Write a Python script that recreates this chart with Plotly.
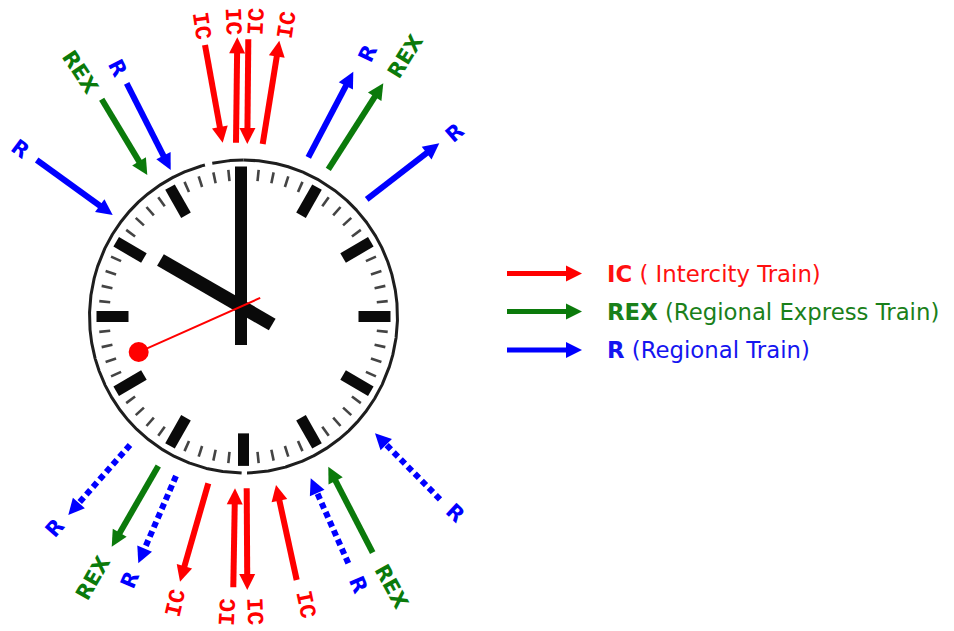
import math
import plotly.graph_objects as go

# ---------------- data ----------------
hour_value = 10
minute_value = 0
second_value = 41

arrow_service = ["R", "REX", "R", "IC", "IC", "IC", "IC", "R", "REX", "R",
                 "R", "REX", "R", "IC", "IC", "IC", "IC", "R", "REX", "R"]
arrow_dotted = [False, False, False, False, False, False, False, False, False, False,
                True, False, True, False, False, False, False, True, False, True]
arrow_tail_x = [36.7, 101.7, 126.7, 205.0, 236.0, 248.3, 262.7, 308.3, 328.3, 366.7,
                130.0, 158.3, 176.0, 208.3, 233.3, 246.7, 296.7, 348.3, 372.7, 440.0]
arrow_tail_y = [160.0, 99.3, 83.3, 45.0, 142.7, 39.3, 144.0, 157.3, 169.3, 199.3,
                445.0, 466.0, 476.0, 483.3, 587.3, 488.3, 580.0, 563.3, 552.7, 499.3]
arrow_tip_x = [112.7, 147.3, 170.7, 222.7, 237.3, 247.3, 279.3, 353.3, 383.3, 439.3,
               68.3, 111.7, 138.3, 180.0, 235.0, 247.3, 276.0, 310.7, 328.3, 375.0]
arrow_tip_y = [215.0, 175.0, 170.0, 142.7, 37.3, 144.0, 40.7, 71.7, 83.3, 143.3,
               515.0, 546.7, 563.3, 581.7, 488.3, 590.0, 485.0, 478.3, 466.7, 433.3]
label_x = [20.0, 80.0, 117.3, 200.7, 232.3, 256.7, 287.3, 368.3, 405.0, 455.0,
           55.0, 93.3, 130.0, 176.7, 228.3, 254.0, 305.0, 358.3, 391.7, 455.0]
label_y = [149.3, 71.7, 68.3, 26.0, 22.0, 21.5, 24.5, 53.3, 56.7, 133.3,
           528.3, 578.3, 580.0, 603.3, 611.7, 611.7, 605.0, 585.0, 586.7, 513.3]

legend_codes = ["IC", "REX", "R"]
legend_names = ["( Intercity Train)", "(Regional Express Train)", "(Regional Train)"]

# ---------------- styles ----------------
PAGE_W, PAGE_H, PAGE_OFF = 954, 631, 8   # browser body margin offsets the plot
colors = {"IC": "#ff0000", "REX": "#0b7a0b", "R": "#0000ff"}
text_colors = {"IC": "#ff1010", "REX": "#1a801a", "R": "#1515f0"}
CX, CY = 243.5, 316.5          # dial centre
RX, RY = 154.0, 156.5          # dial radii
HUBX, HUBY = 241.0, 306.5      # hands pivot
HEAD_L, HEAD_HW, LINE_W = 16.0, 8.0, 6.0

fig = go.Figure()


def dial_point(minute_pos, r):
    t = math.radians(minute_pos * 6.0)
    return CX + r * math.sin(t), CY - r * (RY / RX) * math.cos(t)


# dial face (white, below everything)
fig.add_shape(type="circle", x0=CX - RX, x1=CX + RX, y0=CY - RY, y1=CY + RY,
              xref="x", yref="y", fillcolor="white", line=dict(width=0), layer="below")

# outline with the two small gaps
gaps = [(345.6, 348.2), (178.8, 180.6)]
ox, oy = [], []
for k in range(0, 3601):
    deg = k / 10.0
    if any(a <= deg <= b for a, b in gaps):
        if ox and ox[-1] is not None:
            ox.append(None); oy.append(None)
        continue
    t = math.radians(deg)
    ox.append(CX + RX * math.sin(t)); oy.append(CY - RY * math.cos(t))
fig.add_trace(go.Scatter(x=ox, y=oy, mode="lines", line=dict(color="#1e1e1e", width=3),
                         hoverinfo="skip", showlegend=False))

# minute ticks
mx, my = [], []
for m in range(60):
    if m % 5 == 0:
        continue
    x0, y0 = dial_point(m, 134)
    x1, y1 = dial_point(m, 145)
    mx += [x0, x1, None]; my += [y0, y1, None]
fig.add_trace(go.Scatter(x=mx, y=my, mode="lines", line=dict(color="#444444", width=2.6),
                         hoverinfo="skip", showlegend=False))

# hour ticks (the 12 o'clock one sits under the minute hand)
hx, hy = [], []
for h in range(1, 12):
    x0, y0 = dial_point(h * 5, 115)
    x1, y1 = dial_point(h * 5, 147)
    hx += [x0, x1, None]; hy += [y0, y1, None]
fig.add_trace(go.Scatter(x=hx, y=hy, mode="lines", line=dict(color="#0a0a0a", width=11),
                         hoverinfo="skip", showlegend=False))


def hand(angle_deg, front, back, width, color):
    t = math.radians(angle_deg)
    ux, uy = math.sin(t), -math.cos(t)
    fig.add_trace(go.Scatter(x=[HUBX - back * ux, HUBX + front * ux],
                             y=[HUBY - back * uy, HUBY + front * uy],
                             mode="lines", line=dict(color=color, width=width),
                             hoverinfo="skip", showlegend=False))
    return HUBX + front * ux, HUBY + front * uy


hour_angle = (hour_value % 12 + minute_value / 60.0) * 30.0
minute_angle = minute_value * 6.0
second_angle = second_value * 6.0
hand(hour_angle, 93, 36, 13.5, "#0a0a0a")
hand(minute_angle, 140, 38.5, 12, "#0a0a0a")
sx, sy = hand(second_angle, 112, 21, 2, "#ff0000")
fig.add_shape(type="circle", x0=sx - 10, x1=sx + 10, y0=sy - 10, y1=sy + 10,
              xref="x", yref="y", fillcolor="#ff0000", line=dict(width=0))


def arrow(x0, y0, x1, y1, color, dotted=False, width=LINE_W):
    L = math.hypot(x1 - x0, y1 - y0)
    ux, uy = (x1 - x0) / L, (y1 - y0) / L
    nx, ny = -uy, ux
    bx, by = x1 - HEAD_L * ux, y1 - HEAD_L * uy
    fig.add_trace(go.Scatter(x=[x0, bx + 1.5 * ux], y=[y0, by + 1.5 * uy], mode="lines",
                             line=dict(color=color, width=width,
                                       dash="6px,4px" if dotted else "solid"),
                             hoverinfo="skip", showlegend=False))
    fig.add_trace(go.Scatter(x=[x1, bx + HEAD_HW * nx, bx - HEAD_HW * nx, x1],
                             y=[y1, by + HEAD_HW * ny, by - HEAD_HW * ny, y1],
                             mode="lines", fill="toself", fillcolor=color,
                             line=dict(width=0, color=color),
                             hoverinfo="skip", showlegend=False))


for i, svc in enumerate(arrow_service):
    arrow(arrow_tail_x[i], arrow_tail_y[i], arrow_tip_x[i], arrow_tip_y[i],
          colors[svc], arrow_dotted[i])


def radial_angle(x, y):
    a = math.degrees(math.atan2(y - CY, x - CX))
    while a > 90:
        a -= 180
    while a <= -90:
        a += 180
    return a


for i, svc in enumerate(arrow_service):
    fam = "Liberation Mono" if svc == "IC" else "DejaVu Sans"
    fig.add_annotation(x=label_x[i], y=label_y[i], text="<b>%s</b>" % svc,
                       showarrow=False, textangle=radial_angle(label_x[i], label_y[i]),
                       font=dict(family=fam, size=23 if svc == "IC" else 21,
                                 color=colors[svc]),
                       xanchor="center", yanchor="middle")

# legend
leg_y = [273.5, 311.5, 350.0]
for i, code in enumerate(legend_codes):
    arrow(507, leg_y[i], 582, leg_y[i], colors[code], False, width=5)
    fig.add_annotation(x=605, y=leg_y[i], xanchor="left", yanchor="middle", showarrow=False,
                       text="<b>%s</b> %s" % (code, legend_names[i]),
                       font=dict(family="DejaVu Sans", size=22.8, color=text_colors[code]))

fig.update_layout(
    width=PAGE_W - PAGE_OFF, height=PAGE_H - PAGE_OFF, margin=dict(l=0, r=0, t=0, b=0),
    paper_bgcolor="white", plot_bgcolor="white",
    xaxis=dict(range=[PAGE_OFF, PAGE_W], visible=False, fixedrange=True),
    yaxis=dict(range=[PAGE_H, PAGE_OFF], visible=False, fixedrange=True),
    showlegend=False,
)
fig.write_html("out.html")
